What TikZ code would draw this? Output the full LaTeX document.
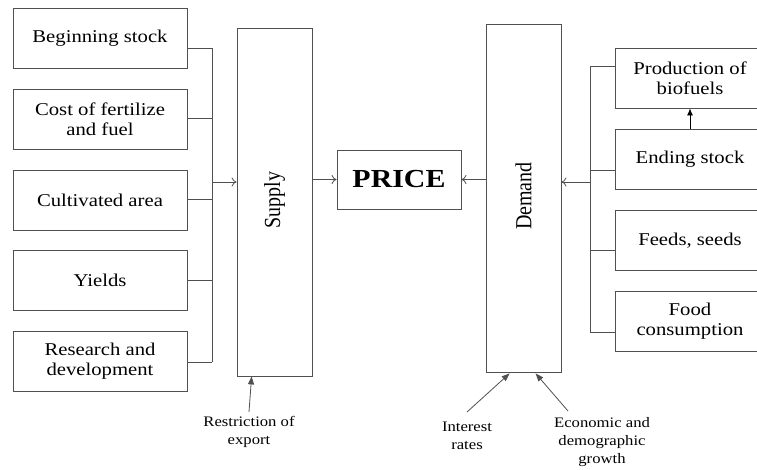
\documentclass[tikz,border=0pt]{standalone}
\usepackage{fontspec}
\setmainfont{Liberation Serif}[FakeStretch=1.15]
\newfontfamily\rotfont{Liberation Serif}
\usetikzlibrary{arrows.meta,calc}
\definecolor{ln}{HTML}{505050}
\tikzset{
  box/.style={draw=ln, rectangle, inner sep=0pt, align=center,
    minimum width=174pt, minimum height=60pt, font=\fontsize{18}{20}\selectfont},
  rbox/.style={box, minimum width=150pt},
  tall/.style={draw=ln, rectangle, inner sep=0pt, minimum width=75pt, minimum height=348pt},
  small/.style={align=center, inner sep=0pt, font=\fontsize{14.5}{18}\selectfont},
  arr/.style={-{To[length=5pt,width=9pt]}},
  farr/.style={-{Triangle[length=8pt,width=6pt]}},
}
\begin{document}
\begin{tikzpicture}[x=1pt,y=-1pt, color=ln, line width=0.8pt, every node/.style={text=black}]
\clip (0,0) rectangle (757,469);
\useasboundingbox (0,0) rectangle (757,469);
% left boxes
\node[box] (b1) at (100,38) {Beginning stock};
\node[box] (b2) at (100,119) {Cost of fertilize\\and fuel};
\node[box] (b3) at (100,200) {Cultivated area};
\node[box] (b4) at (100,280.5) {Yields};
\node[box] (b5) at (100,361.5) {Research and\\development};
% supply, price, demand
\node[tall] (supply) at (274.5,202) {};
\node[rotate=90, inner sep=0pt, font=\rotfont\fontsize{20}{22}\selectfont] (supplyt) at (274.5,200) {\scalebox{1}[1.15]{Supply}};
\node[draw=ln, rectangle, inner sep=0pt, minimum width=124pt, minimum height=59pt,
  font=\bfseries\fontsize{26}{28}\selectfont] (price) at (399,179.5) {PRICE};
\node[tall] (demand) at (523.5,198) {};
\node[rotate=90, inner sep=0pt, font=\rotfont\fontsize{20}{22}\selectfont] (demandt) at (523.5,196) {\scalebox{1}[1.15]{Demand}};
% right boxes
\node[rbox] (r1) at (690,78) {Production of\\biofuels};
\node[rbox] (r2) at (690,159) {Ending stock};
\node[rbox] (r3) at (690,240.5) {Feeds, seeds};
\node[rbox] (r4) at (690,321) {Food\\consumption};
% left bus
\coordinate (L1) at (212,48);
\coordinate (L2) at (212,118);
\coordinate (L3) at (212,199);
\coordinate (L4) at (212,280);
\coordinate (L5) at (212,362);
\coordinate (Lm) at (212,182);
\draw (b1.east |- L1) -- (L1);
\draw (b2.east |- L2) -- (L2);
\draw (b3.east |- L3) -- (L3);
\draw (b4.east |- L4) -- (L4);
\draw (b5.east |- L5) -- (L5);
\draw (L1) -- (L5);
\draw[arr] (Lm) -- (supply.west |- Lm);
% right bus
\coordinate (R1) at (590,66);
\coordinate (R2) at (590,170);
\coordinate (R3) at (590,250);
\coordinate (R4) at (590,332);
\coordinate (Rm) at (590,182);
\draw (r1.west |- R1) -- (R1);
\draw (r2.west |- R2) -- (R2);
\draw (r3.west |- R3) -- (R3);
\draw (r4.west |- R4) -- (R4);
\draw (R1) -- (R4);
\draw[arr] (Rm) -- (demand.east |- Rm);
% to price
\draw[arr] (supply.east |- price.west) -- (price.west);
\draw[arr] (demand.west |- price.east) -- (price.east);
% ending stock -> production
\draw[-{Latex[length=7pt,width=6pt]}, black] (r2.north) -- (r1.south);
% bottom labels
\node[small] (restr) at (249,432) {Restriction of\\export};
\node[small] (inter) at (467,436) {Interest\\rates};
\node[small] (econ) at (602,442) {Economic and\\demographic\\growth};
\coordinate (rs) at (249,412);
\coordinate (is) at (467,412);
\coordinate (es) at (568,411);
\draw[farr] (rs) -- ($(supply.south west)+(15,0)$);
\draw[farr] (is) -- ($(demand.south west)+(24,1)$);
\draw[farr] (es) -- ($(demand.south west)+(50,1)$);
\end{tikzpicture}
\end{document}
